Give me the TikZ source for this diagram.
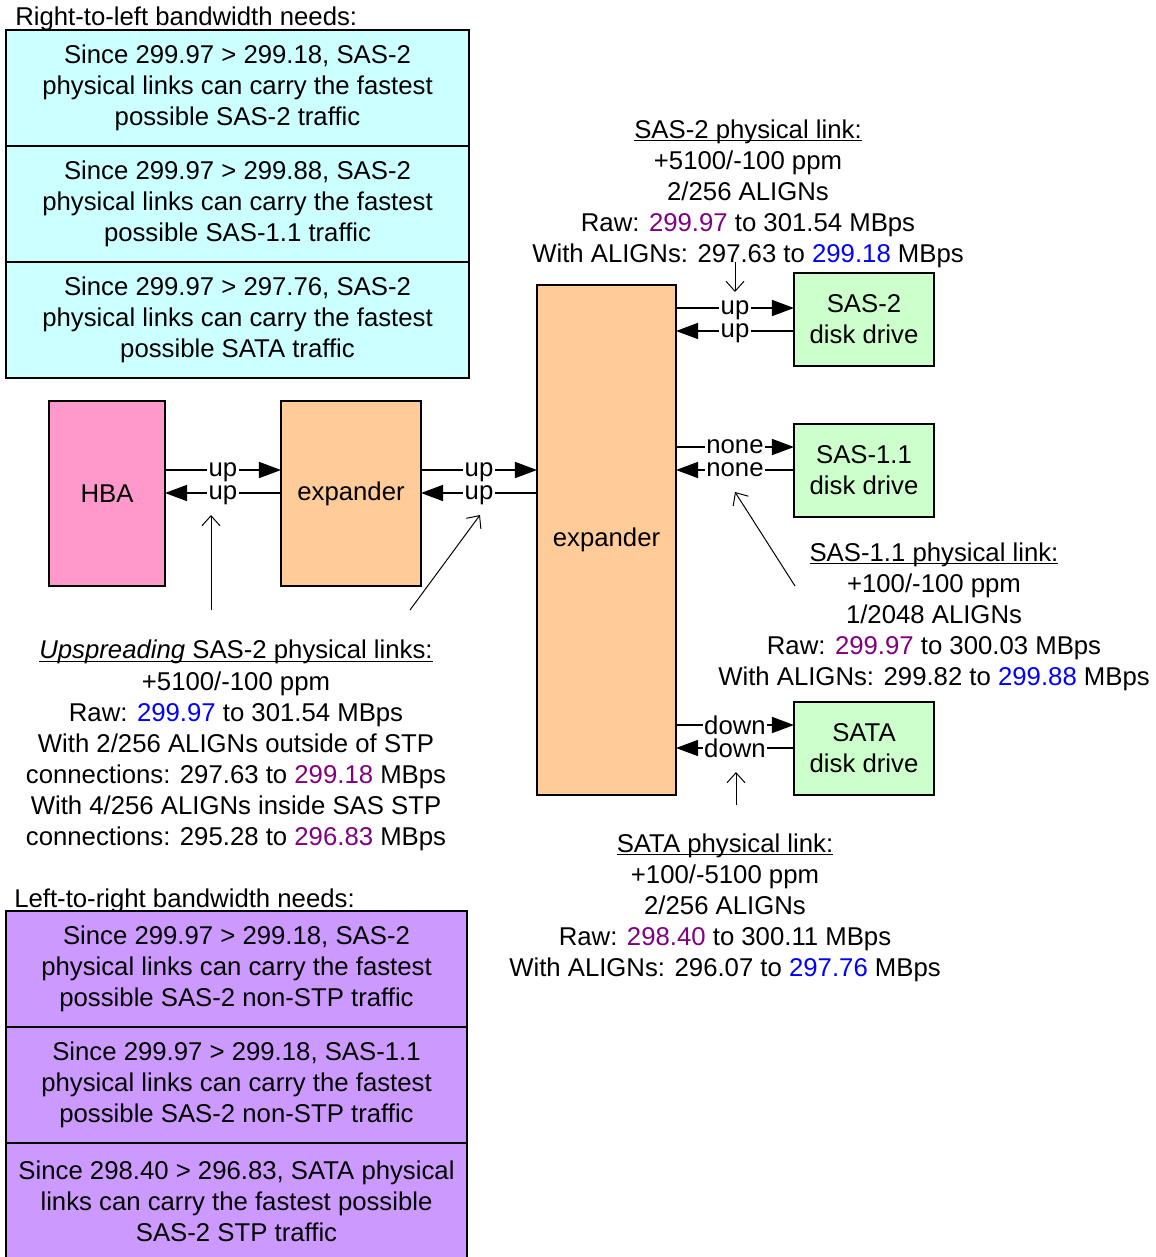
\documentclass[tikz,border=0pt]{standalone}
\usepackage{fontspec}
\setmainfont{Liberation Sans}
\usetikzlibrary{arrows.meta}

\definecolor{rlcyan}{HTML}{CCFFFF}
\definecolor{lrpurple}{HTML}{CC99FF}
\definecolor{hbapink}{HTML}{FF99CC}
\definecolor{exporange}{HTML}{FFCC99}
\definecolor{diskgreen}{HTML}{CCFFCC}
\definecolor{slowpurple}{HTML}{800080}
\definecolor{fastblue}{HTML}{0000FF}
\newcommand{\pu}[1]{\textcolor{slowpurple}{#1}}
\newcommand{\bl}[1]{\textcolor{fastblue}{#1}}
\newcommand{\ulin}[1]{\setbox0\hbox{#1}\rlap{\rule[-1.9pt]{\wd0}{0.7pt}}\box0}

\begin{document}
\begin{tikzpicture}[x=0.025cm, y=-0.025cm,
  every node/.style={font=\fontsize{18.3}{22.1}\selectfont},
  box/.style={draw=black, line width=1.1pt, inner sep=0pt, outer sep=0pt, align=center},
  lnk/.style={line width=1.1pt, -{Triangle[length=0.55cm, width=0.4cm]}},
  lbl/.style={fill=white, inner sep=1pt, text depth=0pt},
  pointer/.style={line width=0.7pt, -{Straight Barb[length=0.25cm, width=0.45cm]}},
  info/.style={align=center, inner sep=0pt}]
\useasboundingbox (0,0) rectangle (1156,1257);

% RIGHT-TO-LEFT NEEDS
  \node[anchor=west, inner sep=0pt] (rltitle) at (15,19) {Right-to-left bandwidth needs:};
  \node[box, fill=rlcyan, minimum width=11.575cm, minimum height=2.9cm] (rl1) at (237.5,88)
    {Since 299.97 > 299.18, SAS-2\\physical links can carry the fastest\\possible SAS-2 traffic};
  \node[box, fill=rlcyan, minimum width=11.575cm, minimum height=2.9cm] (rl2) at (237.5,204)
    {Since 299.97 > 299.88, SAS-2\\physical links can carry the fastest\\possible SAS-1.1 traffic};
  \node[box, fill=rlcyan, minimum width=11.575cm, minimum height=2.9cm] (rl3) at (237.5,320)
    {Since 299.97 > 297.76, SAS-2\\physical links can carry the fastest\\possible SATA traffic};

% LEFT-TO-RIGHT NEEDS
  \node[anchor=west, inner sep=0pt] (lrtitle) at (14,901) {Left-to-right bandwidth needs:};
  \node[box, fill=lrpurple, minimum width=11.525cm, minimum height=2.9cm] (lr1) at (236.5,969)
    {Since 299.97 > 299.18, SAS-2\\physical links can carry the fastest\\possible SAS-2 non-STP traffic};
  \node[box, fill=lrpurple, minimum width=11.525cm, minimum height=2.9cm] (lr2) at (236.5,1085)
    {Since 299.97 > 299.18, SAS-1.1\\physical links can carry the fastest\\possible SAS-2 non-STP traffic};
  \node[box, fill=lrpurple, minimum width=11.525cm, minimum height=2.9cm] (lr3) at (236.5,1201)
    {Since 298.40 > 296.83, SATA physical\\links can carry the fastest possible\\SAS-2 STP traffic};

% DEVICES
  \node[box, fill=hbapink, minimum width=2.9cm, minimum height=4.625cm] (hba) at (107,493.5) {HBA};
  \node[box, fill=exporange, minimum width=3.5cm, minimum height=4.625cm] (exp1) at (351,493.5) {expander};
  \node[box, fill=exporange, minimum width=3.475cm, minimum height=12.75cm] (exp2) at (606.5,540) {expander};
  \node[box, fill=diskgreen, minimum width=3.5cm, minimum height=2.325cm] (sas2) at (864,319.5) {SAS-2\\disk drive};
  \node[box, fill=diskgreen, minimum width=3.5cm, minimum height=2.325cm] (sas11) at (864,470.5) {SAS-1.1\\disk drive};
  \node[box, fill=diskgreen, minimum width=3.5cm, minimum height=2.325cm] (sata) at (864,748.5) {SATA\\disk drive};

% LINKS
  \draw[lnk] (hba.east |- 0,470) -- node[lbl] {up} (exp1.west |- 0,470);
  \draw[lnk] (exp1.west |- 0,493) -- node[lbl] {up} (hba.east |- 0,493);
  \draw[lnk] (exp1.east |- 0,470) -- node[lbl] {up} (exp2.west |- 0,470);
  \draw[lnk] (exp2.west |- 0,493) -- node[lbl] {up} (exp1.east |- 0,493);
  \draw[lnk] (exp2.east |- 0,308) -- node[lbl] {up} (sas2.west |- 0,308);
  \draw[lnk] (sas2.west |- 0,331) -- node[lbl] {up} (exp2.east |- 0,331);
  \draw[lnk] (exp2.east |- 0,447) -- node[lbl] {none} (sas11.west |- 0,447);
  \draw[lnk] (sas11.west |- 0,470) -- node[lbl] {none} (exp2.east |- 0,470);
  \draw[lnk] (exp2.east |- 0,725) -- node[lbl] {down} (sata.west |- 0,725);
  \draw[lnk] (sata.west |- 0,748) -- node[lbl] {down} (exp2.east |- 0,748);

% LINK NOTES
  \node[info] (sas2note) at (748,194)
    {\ulin{SAS-2 physical link:}\\+5100/-100 ppm\\2/256 ALIGNs\\Raw: \pu{299.97} to 301.54 MBps\\With ALIGNs: 297.63 to \bl{299.18} MBps};
  \node[info] (sas11note) at (934,617)
    {\ulin{SAS-1.1 physical link:}\\+100/-100 ppm\\1/2048 ALIGNs\\Raw: \pu{299.97} to 300.03 MBps\\With ALIGNs: 299.82 to \bl{299.88} MBps};
  \node[info] (satanote) at (725,907.5)
    {\ulin{SATA physical link:}\\+100/-5100 ppm\\2/256 ALIGNs\\Raw: \pu{298.40} to 300.11 MBps\\With ALIGNs: 296.07 to \bl{297.76} MBps};
  \node[info] (upnote) at (236,745.5)
    {\ulin{\textit{Upspreading} SAS-2 physical links:}\\+5100/-100 ppm\\Raw: \bl{299.97} to 301.54 MBps\\With 2/256 ALIGNs outside of STP\\connections: 297.63 to \pu{299.18} MBps\\With 4/256 ALIGNs inside SAS STP\\connections: 295.28 to \pu{296.83} MBps};

% POINTERS
  \coordinate (upA) at (211,610);  \coordinate (upAend) at (211,515);
  \coordinate (upB) at (410,610);  \coordinate (upBend) at (480,515);
  \coordinate (s2A) at (735,262);  \coordinate (s2Aend) at (735,292);
  \coordinate (s11A) at (795,586); \coordinate (s11Aend) at (735,492);
  \coordinate (stA) at (736,805);  \coordinate (stAend) at (736,772);
  \draw[pointer] (upA) -- (upAend);
  \draw[pointer] (upB) -- (upBend);
  \draw[pointer] (s2A) -- (s2Aend);
  \draw[pointer] (s11A) -- (s11Aend);
  \draw[pointer] (stA) -- (stAend);
\end{tikzpicture}
\end{document}
